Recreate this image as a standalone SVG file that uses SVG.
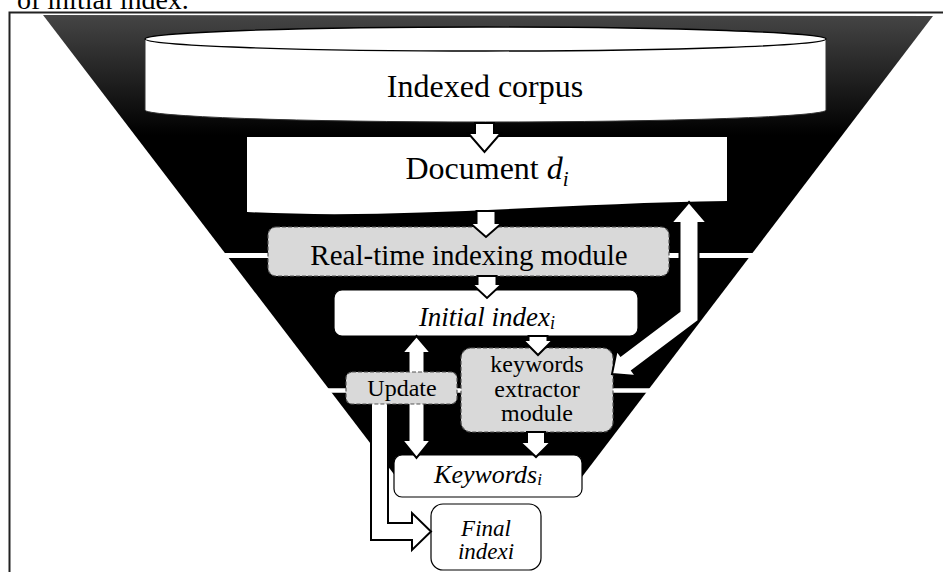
<svg xmlns="http://www.w3.org/2000/svg" width="943" height="572" viewBox="0 0 943 572">
<defs>
<linearGradient id="fg" gradientUnits="userSpaceOnUse" x1="0" y1="15" x2="0" y2="135">
<stop offset="0" stop-color="#454545"/>
<stop offset="1" stop-color="#000"/>
</linearGradient>
<style>
text{font-family:"Liberation Serif","Times New Roman",serif;fill:#000}
.it{font-style:italic}
.mod{fill:#d9d9d9;stroke:#555;stroke-width:1.2;stroke-dasharray:4 2}
.box{fill:#fff;stroke:#000;stroke-width:1.2}
.arr{fill:#fff;stroke:#000;stroke-width:2;stroke-linejoin:miter}
.wl{stroke:#fff;fill:none}
</style>
</defs>
<rect width="943" height="572" fill="#fff"/>
<text x="17" y="9" font-size="28">of initial index.</text>
<path d="M9.5,572 V12.5 H943" fill="none" stroke="#222" stroke-width="2"/>
<polygon points="43,15 933,16 572,490 406,490" fill="url(#fg)"/>
<line class="wl" x1="220" y1="255.5" x2="755" y2="255.5" stroke-width="5"/>
<line class="wl" x1="325" y1="390.5" x2="650" y2="390.5" stroke-width="4.5"/>

<g id="corpus">
<path d="M145,39 V110 A340.5,12 0 0 0 826,110 V39 Z" fill="#fff" stroke="#333" stroke-width="1"/>
<ellipse cx="485.5" cy="39" rx="340.5" ry="12" fill="#fff" stroke="#000" stroke-width="1.3"/>
<text x="485" y="97" font-size="32" text-anchor="middle">Indexed corpus</text>
</g>
<g id="document">
<path d="M247,137 H727 V201 C560,203 400,220 247,212 Z" fill="#fff"/>
<text x="487" y="179" font-size="32" text-anchor="middle">Document <tspan class="it">d</tspan><tspan class="it" font-size="21" dy="7">i</tspan></text>
</g>
<g id="realtime">
<rect class="mod" x="268" y="227" width="401" height="49" rx="8"/>
<text x="469" y="265" font-size="29" text-anchor="middle">Real-time indexing module</text>
</g>
<g id="initial">
<rect class="box" x="334" y="290" width="304" height="46" rx="8"/>
<text x="487" y="326" font-size="27" text-anchor="middle" class="it">Initial index<tspan font-size="18" dy="3">i</tspan></text>
</g>
<g id="extractor">
<rect class="mod" x="461" y="348" width="152" height="84" rx="10"/>
<text x="537" y="372" font-size="24" text-anchor="middle">keywords</text>
<text x="537" y="397" font-size="24" text-anchor="middle">extractor</text>
<text x="537" y="421" font-size="24" text-anchor="middle">module</text>
</g>
<g id="keywords">
<rect class="box" x="394" y="455" width="188" height="42" rx="8"/>
<text x="488" y="483" font-size="26" text-anchor="middle" class="it">Keywords<tspan font-size="17" dy="2">i</tspan></text>
</g>
<g id="final">
<rect class="box" x="431" y="504" width="110" height="66" rx="12"/>
<text x="486" y="536" font-size="23" text-anchor="middle" class="it">Final</text>
<text x="486" y="559" font-size="23" text-anchor="middle" class="it">indexi</text>
</g>

<g id="connectors">
<polygon class="arr" points="475,123 494,123 494,133 501,133 484.5,152 468,133 475,133"/>
<polygon class="arr" points="476.5,211 495.5,211 495.5,223 502,223 486,237 470,223 476.5,223"/>
<polygon class="arr" points="477.5,276 496.5,276 496.5,284 502,284 487,298 472,284 477.5,284"/>
<polygon class="arr" points="528.5,336 547.5,336 547.5,340 553,340 538,355 523,340 528.5,340"/>
<polygon class="arr" points="527,432 545,432 545,442 551,442 536,457 520,442 527,442"/>
<polygon class="arr" points="416.5,336 431,353 424.5,353 424.5,440 431,440 416.5,458 402,440 408.5,440 408.5,353 402,353"/>
<polygon class="arr" points="689,202 707,223 698.5,223 698.5,320.7 632.1,370.8 636,376 612,374 616.8,350.4 620.7,355.6 679.5,311.3 679.5,223 671,223"/>
<polygon class="arr" points="371,398 388,398 388,523 412,523 412,513 431,531.5 412,550 412,540 371,540"/>
</g>

<g id="update">
<rect class="mod" x="346" y="372" width="111" height="32" rx="6"/>
<text x="402" y="396" font-size="24" text-anchor="middle">Update</text>
</g>
</svg>
